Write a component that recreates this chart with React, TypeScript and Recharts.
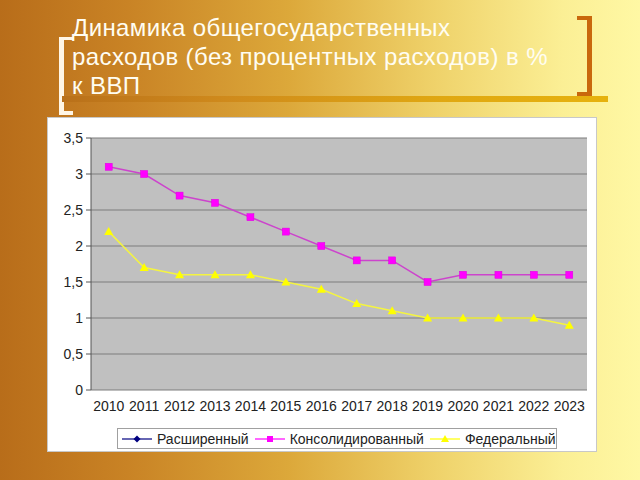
import React from 'react';
import { LineChart, Line, XAxis, YAxis, CartesianGrid, Legend } from 'recharts';

const years = ['2010', '2011', '2012', '2013', '2014', '2015', '2016', '2017', '2018', '2019', '2020', '2021', '2022', '2023'];
const consolidated = [3.1, 3.0, 2.7, 2.6, 2.4, 2.2, 2.0, 1.8, 1.8, 1.5, 1.6, 1.6, 1.6, 1.6];
const federal = [2.2, 1.7, 1.6, 1.6, 1.6, 1.5, 1.4, 1.2, 1.1, 1.0, 1.0, 1.0, 1.0, 0.9];
const extended: (number | null)[] = years.map(() => null);
const yTicks = [0, 0.5, 1, 1.5, 2, 2.5, 3, 3.5];
const seriesNames = { ext: 'Расширенный', cons: 'Консолидированный', fed: 'Федеральный' };
const titleText = ['Динамика общегосударственных', 'расходов (без процентных расходов) в %', 'к ВВП'];

const data = years.map((y, i) => ({ idx: i, year: y, ext: extended[i], cons: consolidated[i], fed: federal[i] }));
const labelTicks = years.map((_, i) => i);
const boundaryTicks = [...years.map((_, i) => i - 0.5), years.length - 0.5];

const SquareDot = (p: any) => {
  if (p.cx == null || p.cy == null) return <g key={p.key} />;
  return <rect key={p.key} x={p.cx - 3.5} y={p.cy - 3.5} width={7} height={7} fill="#ff00ff" stroke="#e000e0" strokeWidth={0.5} />;
};
const TriDot = (p: any) => {
  if (p.cx == null || p.cy == null) return <g key={p.key} />;
  return <polygon key={p.key} points={`${p.cx},${p.cy - 4.5} ${p.cx + 4.5},${p.cy + 3.5} ${p.cx - 4.5},${p.cy + 3.5}`} fill="#ffff00" />;
};

const LegendIcon = ({ kind }: { kind: string }) => {
  const color = kind === 'ext' ? '#000080' : kind === 'cons' ? '#ff00ff' : '#ffff00';
  return (
    <svg width={30} height={10} style={{ display: 'block' }}>
      <line x1={0} y1={5} x2={30} y2={5} stroke={color} strokeWidth={1.2} />
      {kind === 'ext' && <polygon points="15,1.5 18.5,5 15,8.5 11.5,5" fill="#000080" />}
      {kind === 'cons' && <rect x={12} y={2} width={6} height={6} fill="#ff00ff" />}
      {kind === 'fed' && <polygon points="15,1 19,8 11,8" fill="#ffff00" />}
    </svg>
  );
};

const CustomLegend = () => (
  <div style={{ display: 'flex', alignItems: 'center', border: '1px solid #a0a0a0', background: '#fff', height: 19, padding: '0 4px', width: 430, boxSizing: 'content-box' }}>
    {(['ext', 'cons', 'fed'] as const).map((k) => (
      <div key={k} style={{ display: 'flex', alignItems: 'center', marginRight: 6 }}>
        <LegendIcon kind={k} />
        <span style={{ marginLeft: 5, fontSize: 14, color: '#222', fontFamily: 'Arial, "Liberation Sans", sans-serif' }}>{seriesNames[k]}</span>
      </div>
    ))}
  </div>
);

export default function App() {
  return (
    <div style={{ position: 'fixed', left: 0, top: 0, width: 640, height: 480, overflow: 'hidden', background: 'linear-gradient(to right, #b86d1a 0%, #c98325 20%, #dca83a 45%, #efd26a 68%, #fbef95 88%, #fff8a4 100%)', fontFamily: 'Arial, "Liberation Sans", sans-serif' }}>
      {/* left bracket */}
      <div style={{ position: 'absolute', left: 59, top: 37, width: 9, height: 71, borderLeft: '5px solid #fff6e6', borderTop: '3px solid #fff6e6', borderBottom: '4px solid #fff6e6' }} />
      {/* right bracket */}
      <div style={{ position: 'absolute', left: 577, top: 16, width: 10, height: 72, borderRight: '5px solid #c9680c', borderTop: '4px solid #c9680c', borderBottom: '4px solid #c9680c' }} />
      {/* band under title */}
      <div style={{ position: 'absolute', left: 62, top: 96, width: 546, height: 6, background: 'linear-gradient(to right, #b9701a 0%, #cf8a1c 30%, #e0a812 70%, #e6b20e 100%)' }} />
      {/* title */}
      <div style={{ position: 'absolute', left: 72, top: 13, fontSize: 24, letterSpacing: 0.4, lineHeight: '29px', color: '#fffdf2', whiteSpace: 'nowrap' }}>
        {titleText.map((t, i) => (
          <div key={i}>{t}</div>
        ))}
      </div>
      {/* chart panel */}
      <div style={{ position: 'absolute', left: 48, top: 118, width: 548, height: 333, background: '#fff', boxShadow: '0 0 0 1px #c8c8c8' }}>
        <LineChart width={548} height={333} data={data} margin={{ top: 20, right: 9, left: 0, bottom: 31 }}>
          <CartesianGrid vertical={false} horizontal stroke="#7c7c7c" strokeWidth={1.2} fill="#c0c0c0" fillOpacity={1} />
          <XAxis xAxisId="b" type="number" domain={[-0.5, years.length - 0.5]} ticks={boundaryTicks} tick={false} tickSize={5} height={0} allowDataOverflow axisLine={{ stroke: '#555' }} tickLine={{ stroke: '#555' }} />
          <XAxis xAxisId={0} dataKey="idx" type="number" domain={[-0.5, years.length - 0.5]} ticks={labelTicks} tickFormatter={(v: number) => years[v]} axisLine={false} tickLine={false} tickSize={6} tickMargin={5} height={30} interval={0} allowDataOverflow tick={{ fontSize: 14, fill: '#222', fontFamily: 'Arial, "Liberation Sans", sans-serif' }} />
          <YAxis domain={[0, 3.5]} ticks={yTicks} width={43} tickSize={5} tickMargin={3} interval={0} tickFormatter={(v: number) => String(v).replace('.', ',')} axisLine={{ stroke: '#555' }} tickLine={{ stroke: '#555' }} tick={{ fontSize: 14, fill: '#222', fontFamily: 'Arial, "Liberation Sans", sans-serif' }} />
          <Line dataKey="ext" name={seriesNames.ext} stroke="#000080" strokeWidth={1.2} dot={false} isAnimationActive={false} connectNulls={false} />
          <Line dataKey="cons" name={seriesNames.cons} stroke="#cc44cc" strokeWidth={1.5} dot={SquareDot} activeDot={false} isAnimationActive={false} />
          <Line dataKey="fed" name={seriesNames.fed} stroke="#f4f440" strokeWidth={1.5} dot={TriDot} activeDot={false} isAnimationActive={false} />
          <Legend layout="horizontal" verticalAlign="middle" align="center" content={CustomLegend} wrapperStyle={{ position: 'absolute', left: 69, top: 310, width: 440 }} />
        </LineChart>
      </div>
    </div>
  );
}
